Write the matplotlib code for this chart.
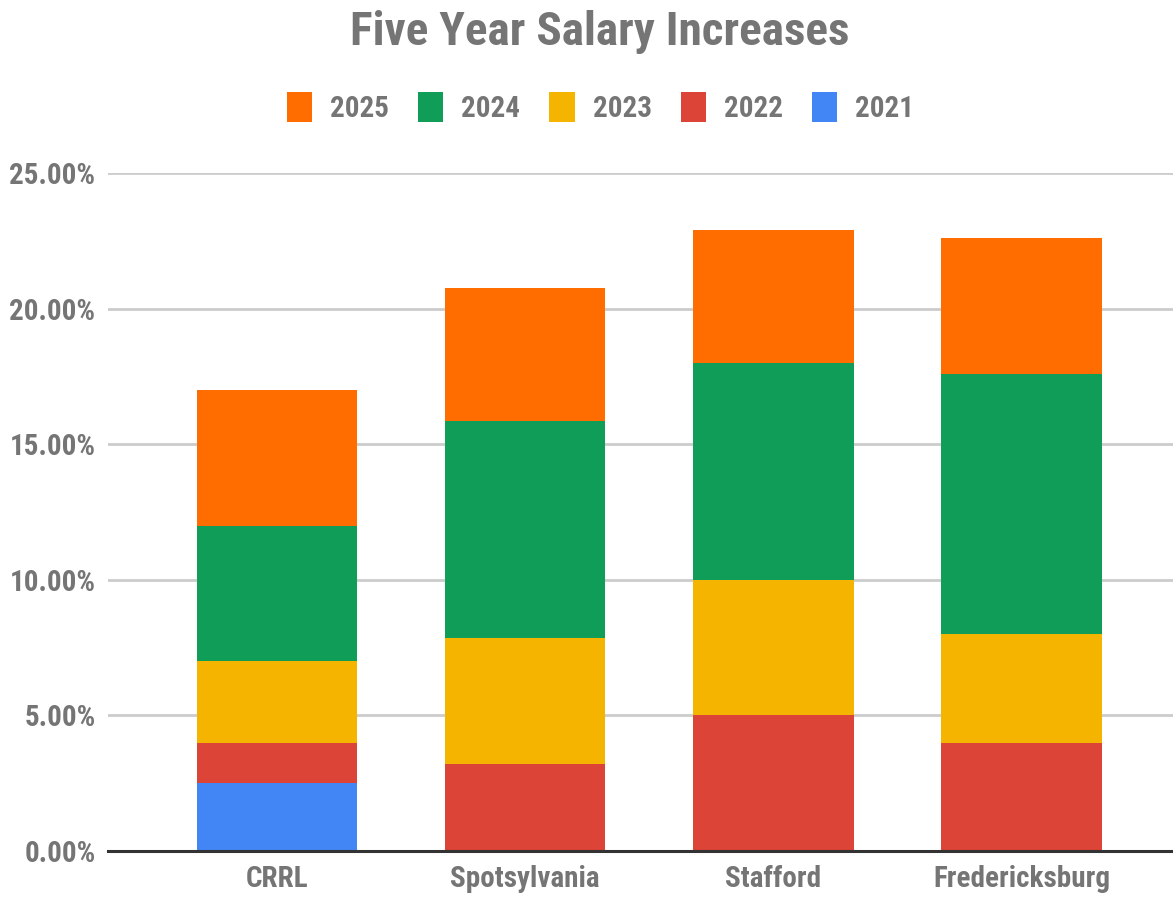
import numpy as np
import matplotlib
matplotlib.use("Agg")
import matplotlib.pyplot as plt
from matplotlib import font_manager as fm
from matplotlib.ticker import FuncFormatter

# pick a narrow sans if there is one, the chart text is condensed
have = set(fm.fontManager.get_font_names())
family = 'Roboto'
for f in ['Roboto Condensed', 'Liberation Sans Narrow', 'Archivo Narrow', 'Asap Condensed']:
    if f in have:
        family = f
        break
plt.rcParams['font.family'] = [family, 'DejaVu Sans']
plt.rcParams['font.weight'] = 'bold'

libraries = ['CRRL', 'Spotsylvania', 'Stafford', 'Fredericksburg']
years = ['2021', '2022', '2023', '2024', '2025']
inc_2021 = [2.5, 0.0, 0.0, 0.0]
inc_2022 = [1.5, 3.2, 5.0, 4.0]
inc_2023 = [3.0, 4.65, 5.0, 4.0]
inc_2024 = [5.0, 8.0, 8.0, 9.6]
inc_2025 = [5.0, 4.9, 4.9, 5.0]
colors = ['#4285F4', '#DB4437', '#F4B400', '#0F9D58', '#FF6D01']

grey = '#757575'
fig = plt.figure(figsize=(11.73, 8.98), dpi=100)
ax = fig.add_axes([108/1173, 47/898, 1 - 108/1173, (851-173)/898])

x = np.arange(len(libraries))
bottom = np.zeros(len(libraries))
bars = []
for yr, vals, c in zip(years, [inc_2021, inc_2022, inc_2023, inc_2024, inc_2025], colors):
    b = ax.bar(x, vals, 0.646, bottom=bottom, color=c, label=yr, zorder=3)
    bars.append(b)
    bottom += np.array(vals)

ax.set_xlim(-0.68, 3.61)
ax.set_ylim(0, 25)
ax.set_yticks([0, 5, 10, 15, 20, 25])
ax.yaxis.set_major_formatter(FuncFormatter(lambda v, p: '%.2f%%' % v))
ax.set_xticks(x)
ax.set_xticklabels(libraries)
ax.grid(axis='y', color='#cccccc', linewidth=2, zorder=0)
for s in ['top', 'right', 'left']:
    ax.spines[s].set_visible(False)
ax.spines['bottom'].set_color('#333333')
ax.spines['bottom'].set_linewidth(2.2)
ax.spines['bottom'].set_zorder(4)
ax.tick_params(axis='both', length=0, labelsize=21, labelcolor=grey)
ax.tick_params(axis='y', pad=9)
ax.tick_params(axis='x', pad=10)

fig.text(0.511, 0.964, 'Five Year Salary Increases', ha='center', va='center',
         fontsize=34, fontweight='bold', color=grey)

leg = fig.legend(bars[::-1], years[::-1], loc='center', bbox_to_anchor=(0.512, 0.880),
                 ncol=5, frameon=False, fontsize=21, handlelength=0.86, handleheight=1.2,
                 handletextpad=0.62, columnspacing=1.0)
for t in leg.get_texts():
    t.set_color(grey)

fig.savefig('out.png', dpi=100)
